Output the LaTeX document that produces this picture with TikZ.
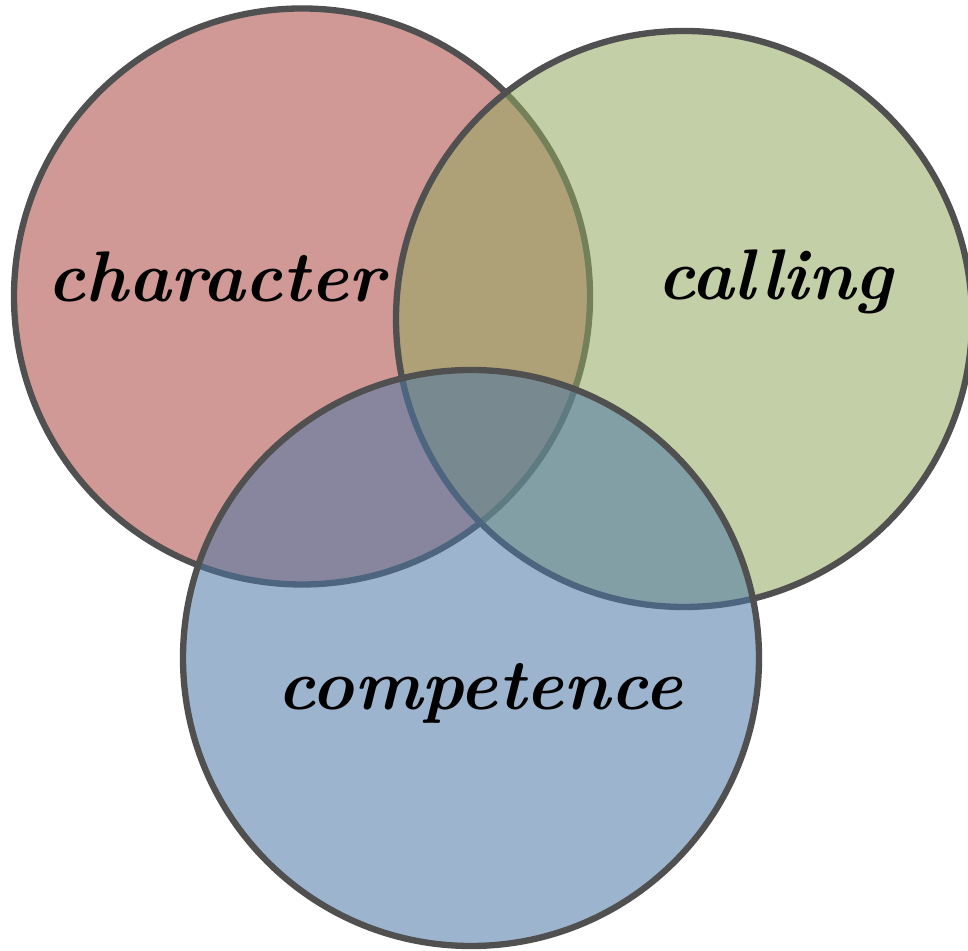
\documentclass[tikz,border=0pt]{standalone}
\usepackage{amsmath}

\definecolor{charred}{RGB}{170,70,64}
\definecolor{callgreen}{RGB}{146,168,93}
\definecolor{compblue}{RGB}{77,119,166}
\definecolor{rimgray}{RGB}{80,80,80}

\begin{document}
\begin{tikzpicture}[
  set/.style = {circle, draw=rimgray, line width=1.8pt, fill opacity=0.55,
                minimum size=5.76cm, inner sep=0pt},
  word/.style = {anchor=base, inner sep=0pt,
                 font=\fontsize{20.4}{24}\selectfont\bfseries\itshape},
  ]
  \useasboundingbox (0,0) rectangle (9.68,9.51);
  \node[set, fill=charred]   (character)  at (3.02,6.545) {};
  \node[set, fill=callgreen] (calling)    at (6.84,6.32)  {};
  \node[set, fill=compblue]  (competence) at (4.71,2.93)  {};

  \node[word] (charlabel) at (2.16,6.49) {character};
  \node[word] (calllabel) at (7.75,6.51) {calling};
  \node[word] (complabel) at (4.80,2.41) {competence};
\end{tikzpicture}
\end{document}
